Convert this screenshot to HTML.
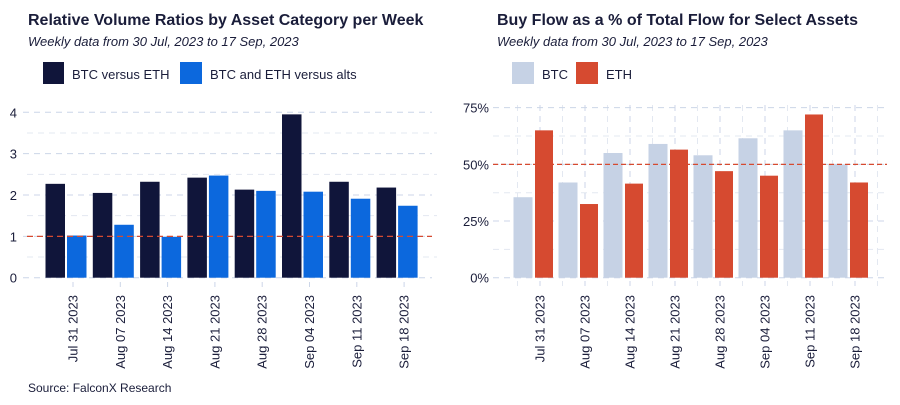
<!DOCTYPE html>
<html><head><meta charset="utf-8"><style>
body{margin:0;background:#fff;font-family:"Liberation Sans",sans-serif;}
svg text{font-family:"Liberation Sans",sans-serif;fill:#1a1d3a;}
</style></head><body>
<svg id="c" width="900" height="400" xmlns="http://www.w3.org/2000/svg">
<text x="28" y="25" font-size="16" font-weight="bold">Relative Volume Ratios by Asset Category per Week</text>
<text x="28" y="46" font-size="13" font-style="italic">Weekly data from 30 Jul, 2023 to 17 Sep, 2023</text>
<rect x="43" y="62" width="21" height="22" fill="#10153a"/>
<text x="72" y="79" font-size="13">BTC versus ETH</text>
<rect x="180" y="62" width="22" height="22" fill="#0c68dd"/>
<text x="210" y="79" font-size="13">BTC and ETH versus alts</text>

<text x="497" y="25" font-size="16" font-weight="bold">Buy Flow as a % of Total Flow for Select Assets</text>
<text x="497" y="46" font-size="13" font-style="italic">Weekly data from 30 Jul, 2023 to 17 Sep, 2023</text>
<rect x="512" y="62" width="22" height="22" fill="#c6d2e5"/>
<text x="542" y="79" font-size="13">BTC</text>
<rect x="576" y="62" width="22" height="22" fill="#d64a30"/>
<text x="606" y="79" font-size="13">ETH</text>

<text x="28" y="392" font-size="12">Source: FalconX Research</text>
<g id="L"></g><g id="R"></g>
</svg>
<script>
const categories=["Jul 31 2023","Aug 07 2023","Aug 14 2023","Aug 21 2023","Aug 28 2023","Sep 04 2023","Sep 11 2023","Sep 18 2023"];
const btcVsEth=[2.27,2.05,2.32,2.42,2.13,3.95,2.32,2.18];
const btcEthVsAlts=[1.02,1.28,0.99,2.47,2.10,2.08,1.91,1.74];
const leftTicks=[0,1,2,3,4];
const btcBuy=[35.5,42,55,59,54,61.5,65,50];
const ethBuy=[65,32.5,41.5,56.5,47,45,72,42];
const rightTicks=[0,25,50,75];
const NS="http://www.w3.org/2000/svg";
function mk(p,t,a){const e=document.createElementNS(NS,t);for(const k in a)e.setAttribute(k,a[k]);p.appendChild(e);return e;}
const L=document.getElementById('L'),R=document.getElementById('R');
// left
const ly=v=>277.7-v*41.35, lx=i=>66+i*47.3;
for(let v=0.5;v<4.5;v+=1){const g=mk(L,'line',{x1:27,x2:437,y1:ly(v),y2:ly(v),stroke:'#e3e8f1','stroke-dasharray':'6,5'});}
leftTicks.forEach(v=>{const g=mk(L,'line',{x1:23,x2:432,y1:ly(v),y2:ly(v),stroke:'#ccd6e8','stroke-dasharray':'6,5'});
const t=mk(L,'text',{x:17,y:ly(v)+5,'font-size':13,'text-anchor':'end'});t.textContent=v;});
categories.forEach((c,i)=>{
const a=mk(L,'rect',{x:lx(i)-20.5,y:ly(btcVsEth[i]),width:19.5,height:ly(0)-ly(btcVsEth[i]),fill:'#10153a'});
const b=mk(L,'rect',{x:lx(i)+1,y:ly(btcEthVsAlts[i]),width:19.5,height:ly(0)-ly(btcEthVsAlts[i]),fill:'#0c68dd'});
const tx=lx(i)+7;mk(L,'line',{x1:tx,x2:tx,y1:282,y2:287,stroke:'#ccd6e8'});
const t=mk(L,'text',{x:0,y:0,'font-size':13,'text-anchor':'end',transform:`translate(${tx+4.5},295) rotate(-90)`});t.textContent=c;});
{const h=mk(L,'line',{x1:27,x2:432,y1:ly(1),y2:ly(1),stroke:'#d64a30','stroke-width':1.3,'stroke-dasharray':'6,4'});}
// right
const ry=v=>277.7-v*2.267, rx=i=>533.5+i*45;
for(let v=12.5;v<80;v+=25){const g=mk(R,'line',{x1:493,x2:887,y1:ry(v),y2:ry(v),stroke:'#e3e8f1','stroke-dasharray':'6,5'});}
for(let i=0;i<9;i++){const x=517.5+i*45;const g=mk(R,'line',{x1:x,x2:x,y1:105,y2:286,stroke:'#e3e8f1','stroke-dasharray':'6,5'});}
rightTicks.forEach(v=>{const g=mk(R,'line',{x1:493,x2:887,y1:ry(v),y2:ry(v),stroke:'#ccd6e8','stroke-dasharray':'6,5'});
const t=mk(R,'text',{x:489,y:ry(v)+5,'font-size':13,'text-anchor':'end'});t.textContent=v+'%';});
categories.forEach((c,i)=>{const tx=rx(i)+6.5;
const g=mk(R,'line',{x1:tx,x2:tx,y1:105,y2:286,stroke:'#ccd6e8','stroke-dasharray':'6,5'});
const a=mk(R,'rect',{x:rx(i)-20,y:ry(btcBuy[i]),width:19,height:ry(0)-ry(btcBuy[i]),fill:'#c6d2e5'});
const b=mk(R,'rect',{x:rx(i)+1.5,y:ry(ethBuy[i]),width:18,height:ry(0)-ry(ethBuy[i]),fill:'#d64a30'});
const t=mk(R,'text',{x:0,y:0,'font-size':13,'text-anchor':'end',transform:`translate(${tx+4.5},295) rotate(-90)`});t.textContent=c;});
{const h=mk(R,'line',{x1:493,x2:887,y1:ry(50),y2:ry(50),stroke:'#d64a30','stroke-width':1.3,'stroke-dasharray':'5,3'});}
</script>
</body></html>
